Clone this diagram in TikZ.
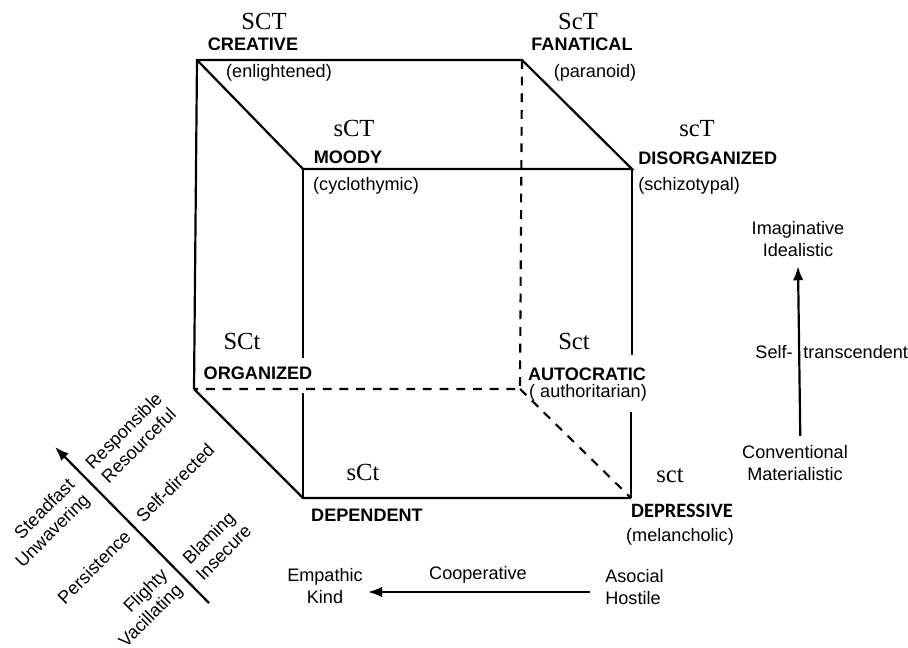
\documentclass[tikz,border=0pt]{standalone}
\usepackage{fontspec}
\setmainfont{Liberation Serif}
\setsansfont{Liberation Sans}
\newfontfamily\calibri{Carlito}
\usetikzlibrary{arrows.meta}

\begin{document}
\begin{tikzpicture}[x=0.02cm,y=-0.02cm,
    edge/.style={line width=1.25pt},
    hidden/.style={line width=1.2pt,dash pattern=on 5pt off 4.5pt},
    axis/.style={line width=1.25pt,-{Latex[length=8pt,width=6pt]}},
    code/.style={font=\fontsize{14}{14}\selectfont,inner sep=0pt},
    trait/.style={font=\sffamily\bfseries\fontsize{10.3}{12}\selectfont,inner sep=0pt},
    aka/.style={font=\sffamily\fontsize{10.3}{12}\selectfont,inner sep=0pt},
    pole/.style={font=\sffamily\fontsize{10.3}{12}\selectfont,inner sep=0pt,align=center}]
      \useasboundingbox (0,0) rectangle (908,648);

      % corners of the cube
      \coordinate (cr) at (197,60);   \coordinate (fa) at (522,60);
      \coordinate (mo) at (303,169);  \coordinate (di) at (632,169);
      \coordinate (or) at (194,389);  \coordinate (au) at (520,389);
      \coordinate (de) at (303,498);  \coordinate (dp) at (631,498);
      \coordinate (mo-cut) at (303,358); \coordinate (de-cut) at (303,393);
      \coordinate (di-cut) at (632,355); \coordinate (dp-cut) at (631,412);

      \draw[edge] (or) -- (cr) -- (fa) -- (di) -- (mo) -- (cr);
      \draw[edge] (or) -- (de) -- (dp);
      \draw[edge] (mo) -- (mo-cut) (de-cut) -- (de);
      \draw[edge] (di) -- (di-cut) (dp-cut) -- (dp);
      \draw[hidden] (fa) -- (au) -- (or);
      \draw[hidden] (au) -- (dp);

      \node[code] (sct-1) at (264,21) {SCT};
      \node[trait] (creative) at (253,44) {CREATIVE};
      \node[aka] (enlight) at (279,73) {(enlightened)};
      \node[code] (sct-2) at (578,21) {ScT};
      \node[trait] (fanatic) at (582,44) {FANATICAL};
      \node[aka] (paranoid) at (595,73) {(paranoid)};
      \node[code] (sct-3) at (354,128) {sCT};
      \node[trait] (moody) at (348,157) {MOODY};
      \node[aka] (cyclo) at (366,186) {(cyclothymic)};
      \node[code] (sct-4) at (697,129) {scT};
      \node[trait,anchor=west] (disorg) at (638,158) {DISORGANIZED};
      \node[aka,anchor=west] (schizo) at (638,186) {(schizotypal)};
      \node[code] (sct-5) at (242,341) {SCt};
      \node[trait] (organized) at (258,373) {ORGANIZED};
      \node[code] (sct-6) at (574,341) {Sct};
      \node[trait] (autocr) at (587,374) {AUTOCRATIC};
      \node[aka] (author) at (588,393) {( authoritarian)};
      \node[code] (sct-7) at (363,472) {sCt};
      \node[trait] (dependent) at (367,515) {DEPENDENT};
      \node[code] (sct-8) at (670,476) {sct};
      \node[font=\calibri\bfseries\fontsize{11.6}{13}\selectfont,inner sep=0pt] (depress) at (682,511) {DEPRESSIVE};
      \node[aka] (melan) at (680,537) {(melancholic)};

      % self-transcendence
      \node[pole] (imag) at (798,239) {Imaginative\\Idealistic};
      \node[pole] (conv) at (795,463) {Conventional\\Materialistic};
      \draw[axis] ([xshift=3pt,yshift=5.5pt]conv.north) -- ([yshift=-5.5pt]imag.south);
      \node[aka,anchor=east] (self-t) at (793,352) {Self-};
      \node[aka,anchor=west] (transc) at (803,352) {transcendent};

      % cooperativeness
      \node[pole] (empath) at (325,586) {Empathic\\Kind};
      \node[pole,align=left,anchor=west] (asoc) at (605,587) {Asocial\\Hostile};
      \coordinate (coop-r) at (590,592);
      \coordinate (coop-l) at (368,592);
      \draw[axis] (coop-r) -- (coop-l);
      \node[aka] (coop) at (478,575) {Cooperative};

      % self-directedness
      \coordinate (sd-lo) at (209,603);
      \coordinate (sd-hi) at (55,447);
      \draw[axis] (sd-lo) -- (sd-hi);
      \node[pole,rotate=45,align=right] (steady) at (46,524) {Steadfast\\Unwavering};
      \node[aka,rotate=45] (persist) at (94,567) {Persistence};
      \node[pole,rotate=45,align=right] (flighty) at (144,609) {Flighty\\Vacillating};
      \node[pole,rotate=45] (respons) at (131,438) {Responsible\\Resourceful};
      \node[aka,rotate=45] (selfdir) at (175,483) {Self-directed};
      \node[pole,rotate=45] (blaming) at (216,545) {Blaming\\Insecure};
\end{tikzpicture}
\end{document}
